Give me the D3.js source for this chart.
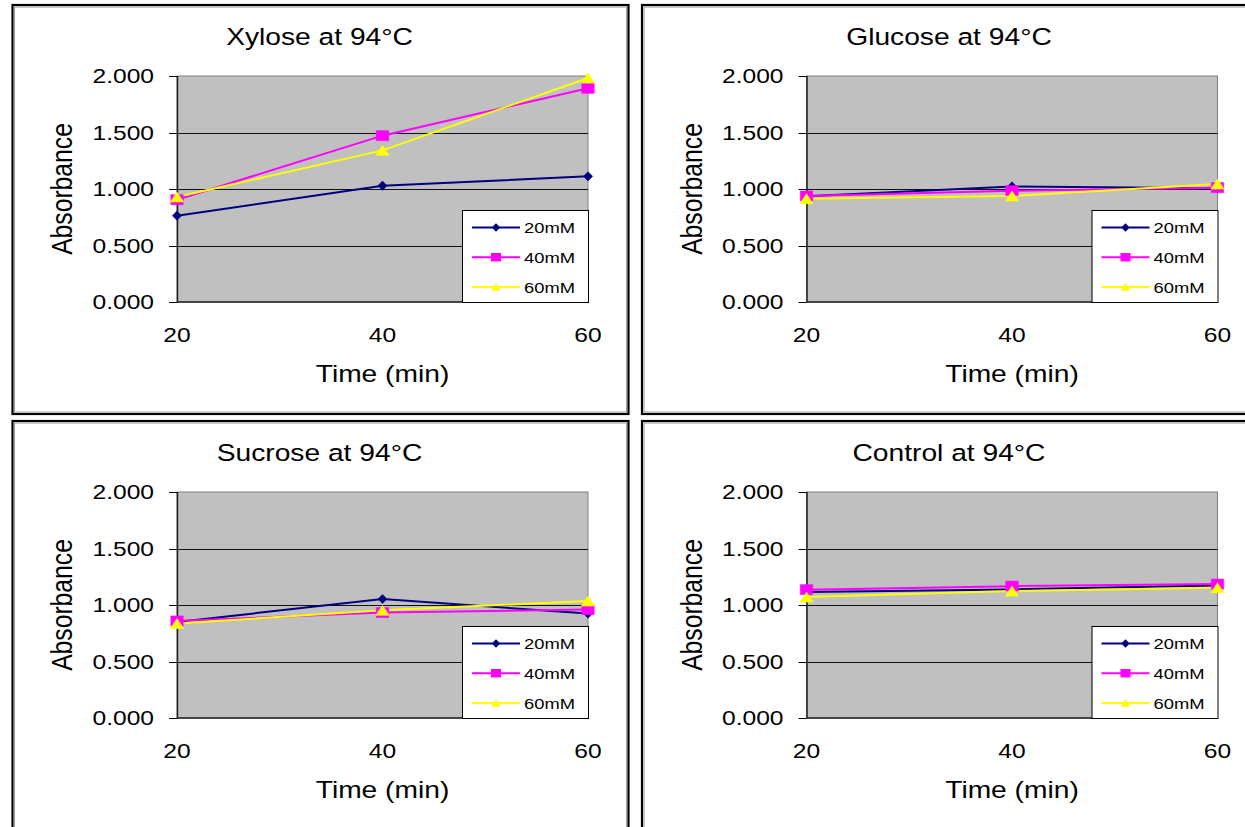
<!DOCTYPE html>
<html>
<head>
<meta charset="utf-8">
<script src="https://cdn.jsdelivr.net/npm/d3@7"></script>
<style>
  html, body { margin: 0; padding: 0; background: #ffffff; }
  svg { display: block; font-family: "Liberation Sans", Arial, sans-serif; }
</style>
</head>
<body>
<svg id="chart" width="1245" height="827"></svg>
<script>
// ---- data ----
const times = [20, 40, 60];
const seriesLabels = ["20mM", "40mM", "60mM"];
const seriesColors = ["#000080", "#FF00FF", "#FFFF00"];
const seriesMarkers = ["diamond", "square", "triangle"];
const yTicks = [0, 0.5, 1.0, 1.5, 2.0];
const panelTitles = ["Xylose at 94°C", "Glucose at 94°C", "Sucrose at 94°C", "Control at 94°C"];
const xAxisTitle = "Time (min)";
const yAxisTitle = "Absorbance";

const xylose20 = [0.764, 1.029, 1.112];
const xylose40 = [0.905, 1.472, 1.891];
const xylose60 = [0.930, 1.342, 1.982];

const glucose20 = [0.935, 1.023, 1.006];
const glucose40 = [0.938, 0.985, 1.012];
const glucose60 = [0.914, 0.938, 1.044];

const sucrose20 = [0.850, 1.053, 0.924];
const sucrose40 = [0.859, 0.933, 0.960];
const sucrose60 = [0.836, 0.953, 1.035];

const control20 = [1.115, 1.138, 1.173];
const control40 = [1.136, 1.167, 1.185];
const control60 = [1.070, 1.123, 1.153];

// ---- layout ----
const SX = 1.2; // horizontal stretch applied to text glyphs and markers
const panels = [
  { title: panelTitles[0], series: [xylose20, xylose40, xylose60], ox: 0,     oy: 0 },
  { title: panelTitles[1], series: [glucose20, glucose40, glucose60], ox: 629.5, oy: 0 },
  { title: panelTitles[2], series: [sucrose20, sucrose40, sucrose60], ox: 0,     oy: 416 },
  { title: panelTitles[3], series: [control20, control40, control60], ox: 629.5, oy: 416 }
];

const svg = d3.select("#chart");

// marker path generator (unit: half-width w, half-height h)
function markerPath(kind, w, h) {
  if (kind === "diamond") return `M0,${-h}L${w},0L0,${h}L${-w},0Z`;
  if (kind === "square") return `M${-w},${-h}H${w}V${h}H${-w}Z`;
  return `M0,${-h}L${w},${h}H${-w}Z`;
}
const chartMarkerSize = {
  diamond: [4.6, 4.6],
  square: [6.2, 5],
  triangle: [6.6, 5]
};
const legendMarkerSize = {
  diamond: [4.2, 4.2],
  square: [5, 4.2],
  triangle: [4.8, 3.9]
};

function stretchedText(g, x, y, text, size, anchor, rotate) {
  const t = g.append("text")
    .attr("transform", `translate(${x},${y}) scale(${SX},1)` + (rotate ? ` rotate(${rotate})` : ""))
    .attr("text-anchor", anchor)
    .attr("font-size", size)
    .attr("fill", "#000")
    .text(text);
  return t;
}

panels.forEach(p => {
  const g = svg.append("g");
  const left = p.ox + 177, right = p.ox + 588;
  const top = p.oy + 76, bottom = p.oy + 302;

  // outer frame with inner shadow
  g.append("rect")
    .attr("x", p.ox + 12.5).attr("y", p.oy + 5)
    .attr("width", 616).attr("height", 409)
    .attr("fill", "#fff").attr("stroke", "#000").attr("stroke-width", 2.2);
  g.append("rect")
    .attr("x", p.ox + 14.5).attr("y", p.oy + 7)
    .attr("width", 612).attr("height", 405)
    .attr("fill", "none").attr("stroke", "#9a9a9a").attr("stroke-width", 1);

  const x = d3.scalePoint().domain(times).range([left, right]);
  const y = d3.scaleLinear().domain([0, 2]).range([bottom, top]);

  // plot area
  g.append("rect")
    .attr("x", left).attr("y", top)
    .attr("width", right - left).attr("height", bottom - top)
    .attr("fill", "#C0C0C0").attr("stroke", "#808080").attr("stroke-width", 1);

  // gridlines
  g.append("g").selectAll("line")
    .data(yTicks.filter(v => v > 0 && v < 2))
    .join("line")
    .attr("x1", left).attr("x2", right)
    .attr("y1", d => Math.round(y(d)) + 0.5).attr("y2", d => Math.round(y(d)) + 0.5)
    .attr("stroke", "#111").attr("stroke-width", 1);

  // axes lines
  g.append("line").attr("x1", left + 0.5).attr("x2", left + 0.5)
    .attr("y1", top).attr("y2", bottom)
    .attr("stroke", "#222").attr("stroke-width", 1.5);
  g.append("line").attr("x1", left).attr("x2", right)
    .attr("y1", bottom).attr("y2", bottom)
    .attr("stroke", "#222").attr("stroke-width", 1.5);

  // y tick marks and labels
  g.append("g").selectAll("line")
    .data(yTicks)
    .join("line")
    .attr("x1", left - 8).attr("x2", left)
    .attr("y1", d => Math.round(y(d)) + 0.5).attr("y2", d => Math.round(y(d)) + 0.5)
    .attr("stroke", "#000").attr("stroke-width", 1);
  const fmt = d3.format(".3f");
  yTicks.forEach(v => {
    stretchedText(g, left - 23, y(v) + 7.3, fmt(v), 20.5, "end");
  });

  // x labels
  times.forEach(t => {
    stretchedText(g, x(t), bottom + 39.5, String(t), 20.5, "middle");
  });

  // titles
  stretchedText(g, p.ox + 319.5, p.oy + 45, p.title, 23.5, "middle");
  stretchedText(g, (left + right) / 2, p.oy + 381.5, xAxisTitle, 23.5, "middle");
  stretchedText(g, p.ox + 72, (top + bottom) / 2, yAxisTitle, 24.7, "middle", -90);

  // series lines
  const line = d3.line().x((d, i) => x(times[i])).y(d => y(d));
  p.series.forEach((vals, si) => {
    g.append("path")
      .datum(vals)
      .attr("d", line)
      .attr("fill", "none")
      .attr("stroke", seriesColors[si])
      .attr("stroke-width", 2);
  });
  // series markers
  p.series.forEach((vals, si) => {
    const kind = seriesMarkers[si];
    const [mw, mh] = chartMarkerSize[kind];
    g.append("g").selectAll("path")
      .data(vals)
      .join("path")
      .attr("transform", (d, i) => `translate(${x(times[i])},${y(d)})`)
      .attr("d", markerPath(kind, mw, mh))
      .attr("fill", seriesColors[si])
      .attr("stroke", seriesColors[si])
      .attr("stroke-width", 0.6);
  });

  // legend
  const lg = g.append("g");
  const lx = right - 126, ly = p.oy + 210;
  lg.append("rect")
    .attr("x", lx + 0.5).attr("y", ly + 0.5)
    .attr("width", 126).attr("height", bottom - ly)
    .attr("fill", "#fff").attr("stroke", "#000").attr("stroke-width", 1);
  seriesLabels.forEach((lab, si) => {
    const ry = ly + 17.5 + si * 29.7;
    lg.append("line")
      .attr("x1", lx + 10).attr("x2", lx + 58)
      .attr("y1", ry).attr("y2", ry)
      .attr("stroke", seriesColors[si]).attr("stroke-width", 2);
    const kind = seriesMarkers[si];
    const [mw, mh] = legendMarkerSize[kind];
    lg.append("path")
      .attr("transform", `translate(${lx + 34},${ry})`)
      .attr("d", markerPath(kind, mw, mh))
      .attr("fill", seriesColors[si]);
    stretchedText(lg, lx + 62, ry + 5.6, lab, 15.3, "start");
  });
});
</script>
</body>
</html>
